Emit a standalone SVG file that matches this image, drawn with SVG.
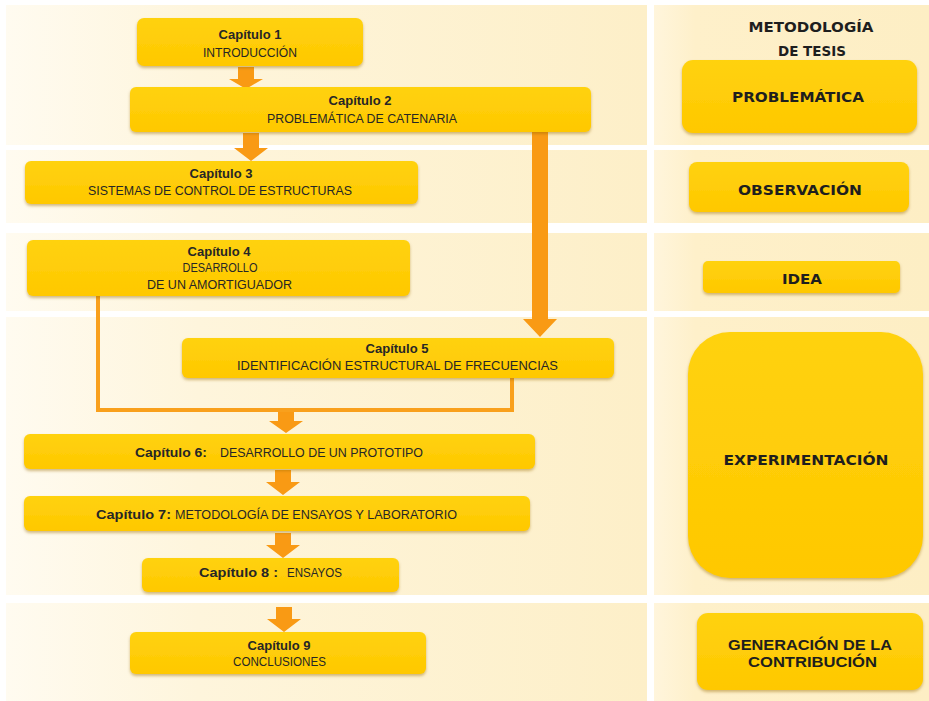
<svg xmlns="http://www.w3.org/2000/svg" width="929" height="701" viewBox="0 0 929 701">
<defs>
<linearGradient id="bandL" x1="0" y1="0" x2="1" y2="0">
<stop offset="0" stop-color="#FFFBF0"/>
<stop offset="0.3" stop-color="#FEF5DC"/>
<stop offset="1" stop-color="#FDEFC8"/>
</linearGradient>
<linearGradient id="bandR" x1="0" y1="0" x2="1" y2="0">
<stop offset="0" stop-color="#FFF5DC"/>
<stop offset="0.15" stop-color="#FEF0CA"/>
<stop offset="1" stop-color="#FDEEC4"/>
</linearGradient>
<linearGradient id="boxFill" x1="0" y1="0" x2="0" y2="1">
<stop offset="0" stop-color="#FFD20F"/>
<stop offset="1" stop-color="#FFC800"/>
</linearGradient>
<filter id="sh" x="-5%" y="-15%" width="110%" height="140%">
<feDropShadow dx="0" dy="2" stdDeviation="1.4" flood-color="#9A6A00" flood-opacity="0.45"/>
</filter>
<style>
.band-l{fill:url(#bandL)}
.band-r{fill:url(#bandR)}
.box{fill:url(#boxFill);filter:url(#sh)}
.arrow{fill:#F99A14}
.line{fill:none;stroke:#F9A01C;stroke-width:4;stroke-linejoin:miter}
.cap{font-family:"Liberation Sans",Arial,sans-serif;font-weight:bold;font-size:13px;fill:#262626}
.sub{font-family:"Liberation Sans",Arial,sans-serif;font-size:12.5px;fill:#262626}
.lab{font-family:"DejaVu Sans","Liberation Sans",sans-serif;font-weight:bold;font-size:14px;fill:#1E1E1E}
.lab2{font-family:"Liberation Sans",Arial,sans-serif;font-weight:bold;font-size:15px;fill:#1E1E1E}
</style>
</defs>
<rect width="929" height="701" fill="#FFFFFF"/>
<g id="background">
<rect class="band-l" x="6" y="5" width="641" height="140"/>
<rect class="band-l" x="6" y="150" width="641" height="73"/>
<rect class="band-l" x="6" y="233" width="641" height="78"/>
<rect class="band-l" x="6" y="317" width="641" height="278"/>
<rect class="band-l" x="6" y="603" width="641" height="98"/>
<rect class="band-r" x="654" y="5" width="275" height="140"/>
<rect class="band-r" x="654" y="150" width="275" height="73"/>
<rect class="band-r" x="654" y="233" width="275" height="78"/>
<rect class="band-r" x="654" y="317" width="275" height="278"/>
<rect class="band-r" x="654" y="603" width="275" height="98"/>
</g>
<g id="connectors">
<path class="line" d="M98 296 V410 H512 V377"/>
<path class="arrow" d="M238 67 H254 V79 H263 L246 89 L229 79 H238 Z"/>
<path class="arrow" d="M243 133 H259 V148 H268 L251 161 L234 148 H243 Z"/>
<path class="arrow" d="M532 132 H548 V319 H557 L540 337 L523 319 H532 Z"/>
<path class="arrow" d="M278 412 H294 V421 H303 L286 433 L269 421 H278 Z"/>
<path class="arrow" d="M275 470 H291 V482 H300 L283 495 L266 482 H275 Z"/>
<path class="arrow" d="M275 533 H291 V545 H300 L283 558 L266 545 H275 Z"/>
<path class="arrow" d="M276 607 H292 V619 H301 L284 632 L267 619 H276 Z"/>
</g>
<g id="cap1">
<rect class="box" x="137" y="18" width="226" height="48" rx="7"/>
<text class="cap" x="250" y="39" text-anchor="middle">Capítulo 1</text>
<text class="sub" x="250" y="57" text-anchor="middle" textLength="94" lengthAdjust="spacingAndGlyphs">INTRODUCCIÓN</text>
</g>
<g id="cap2">
<rect class="box" x="130" y="87" width="461" height="45" rx="6"/>
<text class="cap" x="360" y="105" text-anchor="middle">Capítulo 2</text>
<text class="sub" x="362" y="123" text-anchor="middle" textLength="190" lengthAdjust="spacingAndGlyphs">PROBLEMÁTICA  DE CATENARIA</text>
</g>
<g id="cap3">
<rect class="box" x="25" y="161" width="393" height="43" rx="6"/>
<text class="cap" x="221" y="178" text-anchor="middle">Capítulo 3</text>
<text class="sub" x="220" y="195" text-anchor="middle" textLength="264" lengthAdjust="spacingAndGlyphs">SISTEMAS  DE  CONTROL  DE ESTRUCTURAS</text>
</g>
<g id="cap4">
<rect class="box" x="27" y="240" width="383" height="56" rx="6"/>
<text class="cap" x="219" y="256" text-anchor="middle">Capítulo 4</text>
<text class="sub" x="220" y="272" text-anchor="middle" textLength="75" lengthAdjust="spacingAndGlyphs">DESARROLLO</text>
<text class="sub" x="219.5" y="289" text-anchor="middle" textLength="145" lengthAdjust="spacingAndGlyphs">DE UN  AMORTIGUADOR</text>
</g>
<g id="cap5">
<rect class="box" x="182" y="338" width="432" height="40" rx="6"/>
<text class="cap" x="397" y="353" text-anchor="middle">Capítulo 5</text>
<text class="sub" x="397.5" y="370" text-anchor="middle" textLength="321" lengthAdjust="spacingAndGlyphs">IDENTIFICACIÓN    ESTRUCTURAL  DE   FRECUENCIAS</text>
</g>
<g id="cap6">
<rect class="box" x="24" y="434" width="511" height="35" rx="6"/>
<text class="cap" x="135" y="457" textLength="72" lengthAdjust="spacingAndGlyphs">Capítulo 6:</text>
<text class="sub" x="220" y="457" textLength="203" lengthAdjust="spacingAndGlyphs">DESARROLLO DE UN PROTOTIPO</text>
</g>
<g id="cap7">
<rect class="box" x="24" y="496" width="506" height="35" rx="6"/>
<text class="cap" x="96" y="519" textLength="75" lengthAdjust="spacingAndGlyphs">Capítulo 7:</text>
<text class="sub" x="175" y="519" textLength="282" lengthAdjust="spacingAndGlyphs">METODOLOGÍA  DE  ENSAYOS  Y LABORATORIO</text>
</g>
<g id="cap8">
<rect class="box" x="142" y="558" width="257" height="34" rx="6"/>
<text class="cap" x="199" y="577" textLength="79" lengthAdjust="spacingAndGlyphs">Capítulo 8 :</text>
<text class="sub" x="287" y="577" textLength="55" lengthAdjust="spacingAndGlyphs">ENSAYOS</text>
</g>
<g id="cap9">
<rect class="box" x="130" y="632" width="296" height="42" rx="6"/>
<text class="cap" x="279" y="650" text-anchor="middle">Capítulo 9</text>
<text class="sub" x="279.5" y="666" text-anchor="middle" textLength="93" lengthAdjust="spacingAndGlyphs">CONCLUSIONES</text>
</g>
<g id="titulo">
<text class="lab" x="811" y="32" text-anchor="middle" textLength="125" lengthAdjust="spacingAndGlyphs">METODOLOGÍA</text>
<text class="lab" x="812" y="56" text-anchor="middle" textLength="68" lengthAdjust="spacingAndGlyphs">DE TESIS</text>
</g>
<g id="problematica">
<rect class="box" x="682" y="60" width="235" height="73" rx="11"/>
<text class="lab" x="798" y="102" text-anchor="middle" textLength="132" lengthAdjust="spacingAndGlyphs">PROBLEMÁTICA</text>
</g>
<g id="observacion">
<rect class="box" x="689" y="162" width="220" height="50" rx="8"/>
<text class="lab" x="800" y="195" text-anchor="middle" textLength="124" lengthAdjust="spacingAndGlyphs">OBSERVACIÓN</text>
</g>
<g id="idea">
<rect class="box" x="703" y="261" width="197" height="32" rx="5"/>
<text class="lab" x="802" y="284" text-anchor="middle" textLength="40" lengthAdjust="spacingAndGlyphs">IDEA</text>
</g>
<g id="experimentacion">
<rect class="box" x="688" y="332" width="235" height="246" rx="42"/>
<text class="lab" x="806" y="465" text-anchor="middle" textLength="165" lengthAdjust="spacingAndGlyphs">EXPERIMENTACIÓN</text>
</g>
<g id="generacion">
<rect class="box" x="697" y="613" width="226" height="77" rx="11"/>
<text class="lab2" x="810" y="650" text-anchor="middle" textLength="164" lengthAdjust="spacingAndGlyphs">GENERACIÓN DE LA</text>
<text class="lab2" x="812.5" y="667" text-anchor="middle" textLength="129" lengthAdjust="spacingAndGlyphs">CONTRIBUCIÓN</text>
</g>
</svg>
